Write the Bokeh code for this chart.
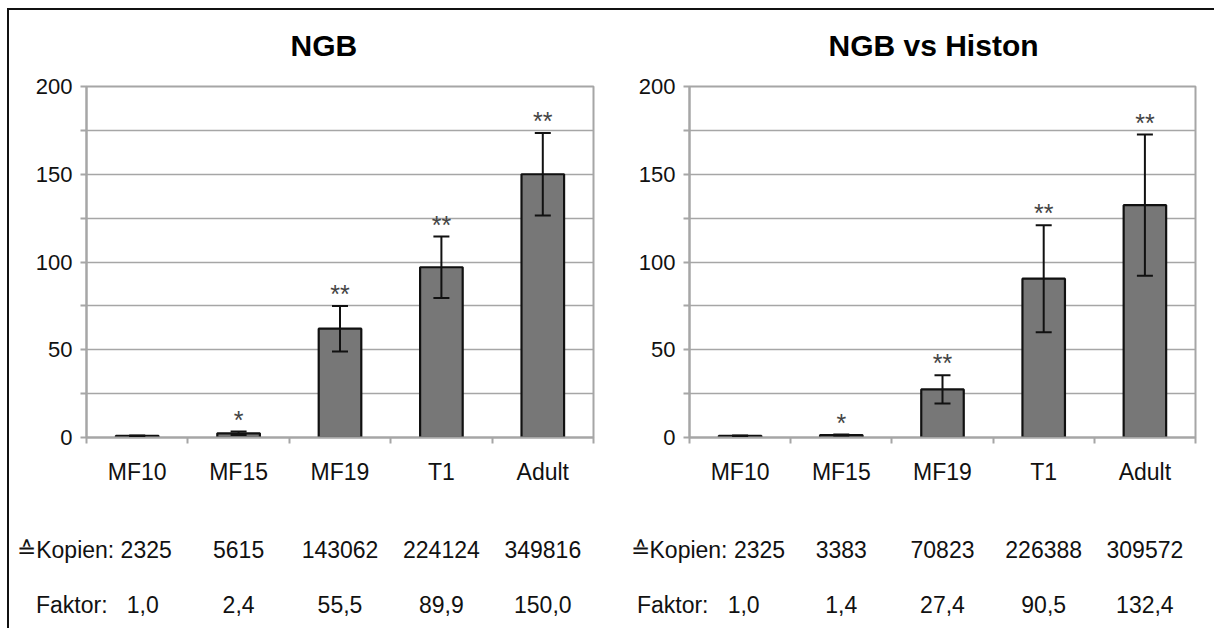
from bokeh.plotting import figure
from bokeh.models import (Range1d, FixedTicker, ColumnDataSource, Whisker, TeeHead, Title,
                          LinearAxis, InlineStyleSheet)
from bokeh.layouts import row
from bokeh.core.properties import value
from bokeh.embed import file_html
from bokeh.resources import INLINE

categories = ["MF10", "MF15", "MF19", "T1", "Adult"]
y_ticks = [0, 50, 100, 150, 200]
y_minor = [25, 75, 125, 175]
grid_ticks = [0, 25, 50, 75, 100, 125, 150, 175, 200]

ngb_title = "NGB"
ngb_values = [1.0, 2.4, 62.0, 97.0, 150.0]
ngb_err = [0.2, 1.0, 13.0, 17.5, 23.5]
ngb_sig = ["", "*", "**", "**", "**"]
ngb_kopien = ["2325", "5615", "143062", "224124", "349816"]
ngb_faktor = ["1,0", "2,4", "55,5", "89,9", "150,0"]

hist_title = "NGB vs Histon"
hist_values = [1.0, 1.4, 27.4, 90.5, 132.4]
hist_err = [0.2, 0.3, 8.0, 30.5, 40.2]
hist_sig = ["", "*", "**", "**", "**"]
hist_kopien = ["2325", "3383", "70823", "226388", "309572"]
hist_faktor = ["1,0", "1,4", "27,4", "90,5", "132,4"]

kopien_label = "\u2259Kopien:"
faktor_label = "Faktor:"

FONT = "Liberation Sans"
GRID = "#a6a6a6"
TXT = "#111111"


def text_axis(p, ticks, labels, standoff):
    ax = LinearAxis(ticker=FixedTicker(ticks=ticks, minor_ticks=[]))
    ax.major_label_overrides = {t: s for t, s in zip(ticks, labels)}
    ax.axis_line_color = None
    ax.major_tick_line_color = None
    ax.minor_tick_line_color = None
    ax.major_tick_out = 0
    ax.major_tick_in = 0
    ax.major_label_standoff = standoff
    ax.major_label_text_font = FONT
    ax.major_label_text_font_size = "23px"
    ax.major_label_text_color = TXT
    p.add_layout(ax, "below")
    return ax


def make_panel(title, vals, errs, sig, kopien, faktor, width, mb, title_off, kop_pos, fak_pos):
    n = len(categories)
    xs = [i + 0.5 for i in range(n)]
    p = figure(width=width, height=628, x_range=Range1d(0, n), y_range=Range1d(0, 200),
               output_backend="svg", toolbar_location=None,
               min_border_left=mb[0], min_border_right=mb[1],
               min_border_top=mb[2], min_border_bottom=mb[3])
    p.background_fill_color = "white"
    p.border_fill_color = "white"
    p.outline_line_color = GRID
    p.outline_line_width = 2

    p.title = Title(text=title, align="left", offset=title_off, standoff=49,
                    text_font=FONT, text_font_size="30px", text_font_style="bold",
                    text_color="black")

    p.xgrid.visible = False
    p.ygrid.ticker = FixedTicker(ticks=grid_ticks)
    p.ygrid.grid_line_color = GRID
    p.ygrid.grid_line_width = 1.6

    ya = p.yaxis[0]
    ya.ticker = FixedTicker(ticks=y_ticks, minor_ticks=y_minor)
    ya.axis_line_color = GRID
    ya.axis_line_width = 2
    ya.major_tick_line_color = GRID
    ya.major_tick_line_width = 2
    ya.major_tick_out = 6
    ya.major_tick_in = 0
    ya.minor_tick_line_color = GRID
    ya.minor_tick_line_width = 2
    ya.minor_tick_out = 6
    ya.minor_tick_in = 0
    ya.major_label_standoff = 8
    ya.major_label_text_font = FONT
    ya.major_label_text_font_size = "22px"
    ya.major_label_text_color = TXT

    xa = p.xaxis[0]
    xa.ticker = FixedTicker(ticks=xs, minor_ticks=list(range(n + 1)))
    xa.major_label_overrides = {x: c for x, c in zip(xs, categories)}
    xa.axis_line_color = GRID
    xa.axis_line_width = 2
    xa.major_tick_out = 0
    xa.major_tick_in = 0
    xa.minor_tick_line_color = GRID
    xa.minor_tick_line_width = 2
    xa.minor_tick_out = 6
    xa.minor_tick_in = 0
    xa.major_label_standoff = 15
    xa.major_label_text_font = FONT
    xa.major_label_text_font_size = "23px"
    xa.major_label_text_color = TXT

    # rows of copy numbers and factors (first entry carries the row caption)
    kop_ticks = [kop_pos] + xs[1:]
    kop_text = [kopien_label + " " + kopien[0]] + kopien[1:]
    text_axis(p, kop_ticks, kop_text, 49)
    fak_ticks = [fak_pos] + xs[1:]
    fak_text = [faktor_label + "\u00a0\u00a0\u00a0" + faktor[0]] + faktor[1:]
    text_axis(p, fak_ticks, fak_text, 26)

    src = ColumnDataSource(dict(x=xs, top=vals,
                                upper=[v + e for v, e in zip(vals, errs)],
                                lower=[v - e for v, e in zip(vals, errs)],
                                sig=sig))
    p.vbar(x="x", top="top", width=0.42, bottom=0, source=src,
           fill_color="#777777", line_color="#111111", line_width=2.2)
    w = Whisker(base="x", upper="upper", lower="lower", source=src,
                line_color="#111111", line_width=2,
                upper_head=TeeHead(size=16, line_width=2, line_color="#111111"),
                lower_head=TeeHead(size=16, line_width=2, line_color="#111111"),
                level="overlay")
    p.add_layout(w)
    p.text(x="x", y="upper", text="sig", source=src, y_offset=-12,
           text_font=value(FONT), text_font_size="25px", text_color="#444444",
           text_align="center", text_baseline="alphabetic")
    return p


p1 = make_panel(ngb_title, ngb_values, ngb_err, ngb_sig, ngb_kopien, ngb_faktor,
                630, (86, 37, 85, 191), 204, 0.079, 0.107)
p2 = make_panel(hist_title, hist_values, hist_err, hist_sig, hist_kopien, hist_faktor,
                584, (59, 19, 86, 189), 139, 0.059, 0.087)

border_css = InlineStyleSheet(css=(
    ":host::after { content: ''; position: absolute; left: 7px; top: 8px; right: 0; bottom: 0;"
    " border-top: 2px solid #111; border-left: 2px solid #111; pointer-events: none; z-index: 100; }"
))
layout = row(p1, p2, stylesheets=[border_css])
open("out.html", "w").write(file_html(layout, INLINE))
